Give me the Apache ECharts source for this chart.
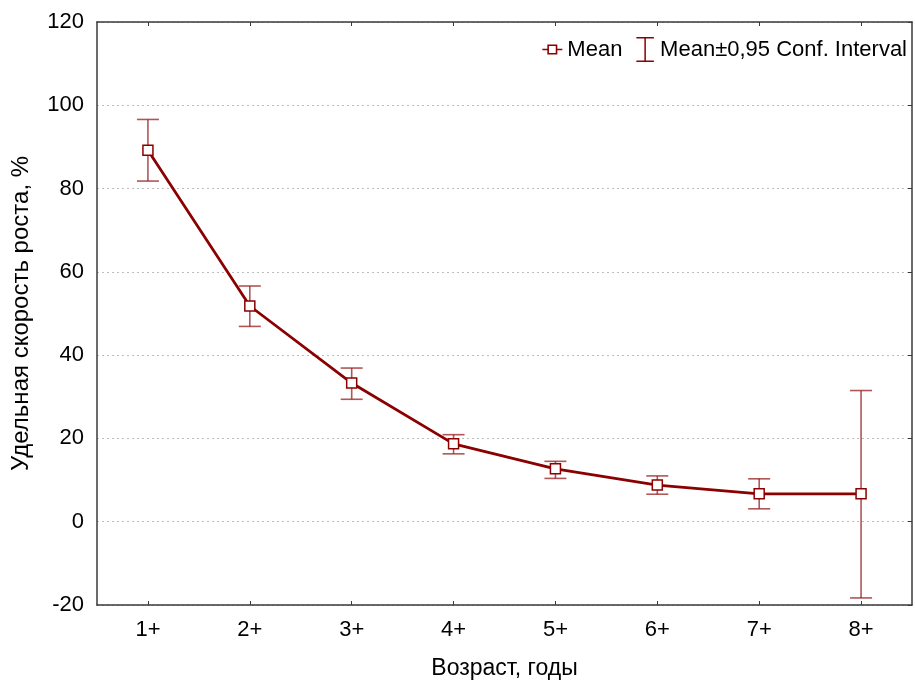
<!DOCTYPE html>
<html>
<head>
<meta charset="utf-8">
<script src="https://cdn.jsdelivr.net/npm/echarts@6/dist/echarts.min.js"></script>
<style>
  html, body { margin: 0; padding: 0; background: #fff; }
  #chart { width: 915px; height: 681px; }
</style>
</head>
<body>
<div id="chart"></div>
<script>
// Age groups and specific growth rate (mean with 95% confidence limits)
const categories = ['1+', '2+', '3+', '4+', '5+', '6+', '7+', '8+'];
const meanValues = [89.2, 51.8, 33.3, 18.7, 12.7, 8.8, 6.7, 6.7];
const lowerValues = [81.8, 46.9, 29.4, 16.3, 10.4, 6.6, 3.1, -18.3];
const upperValues = [96.6, 56.6, 36.9, 20.9, 14.5, 11.0, 10.3, 31.5];
const yTicks = { min: -20, max: 120, step: 20 };

const lineColor = '#8b0000';
const barColor = 'rgba(150, 30, 30, 0.75)';
const axisColor = '#3a3a3a';
const fontFamily = '"Liberation Sans", Arial, sans-serif';

// legend glyphs: line with a hollow square, and an I-beam
const meanIcon = 'path://M0,4.3h5v1.4h-5z M15,4.3h5v1.4h-5z M5,0h10v10h-10z M6.6,1.6v6.8h6.8v-6.8z';
const ciIcon = 'path://M0,0h14v1.2h-6.4v17.6h6.4v1.2h-14v-1.2h6.4v-17.6h-6.4z';

const errorData = categories.map((c, i) => [i, lowerValues[i], upperValues[i]]);

const chart = echarts.init(document.getElementById('chart'));

chart.setOption({
  animation: false,
  textStyle: { fontFamily: fontFamily },
  grid: { left: 97, right: 3, top: 22, bottom: 76, containLabel: false, outerBoundsMode: 'none' },
  legend: {
    right: 3,
    top: 32,
    itemGap: 14,
    itemWidth: 20,
    itemHeight: 25,
    textStyle: { fontSize: 22, color: '#000', fontFamily: fontFamily },
    data: [
      { name: 'Mean', icon: meanIcon, itemStyle: { color: lineColor, borderWidth: 0 } },
      { name: 'Mean±0,95 Conf. Interval', icon: ciIcon, itemStyle: { color: lineColor, borderWidth: 0 } }
    ]
  },
  xAxis: [
    {
      type: 'category',
      data: categories,
      boundaryGap: true,
      axisLine: { show: true, onZero: false, lineStyle: { color: axisColor, width: 1.5 } },
      axisTick: { show: true, inside: true, length: 4, alignWithLabel: true, lineStyle: { color: axisColor } },
      axisLabel: { fontSize: 22, color: '#000', margin: 14 },
      name: 'Возраст, годы',
      nameLocation: 'middle',
      nameGap: 52,
      nameTextStyle: { fontSize: 23, color: '#000' },
      splitLine: { show: false }
    },
    {
      type: 'category',
      data: categories,
      position: 'top',
      boundaryGap: true,
      axisLine: { show: true, onZero: false, lineStyle: { color: axisColor, width: 1.5 } },
      axisTick: { show: true, inside: true, length: 4, alignWithLabel: true, lineStyle: { color: axisColor } },
      axisLabel: { show: false },
      splitLine: { show: false }
    }
  ],
  yAxis: [
    {
      type: 'value',
      min: yTicks.min,
      max: yTicks.max,
      interval: yTicks.step,
      axisLine: { show: true, onZero: false, lineStyle: { color: axisColor, width: 1.5 } },
      axisTick: { show: false },
      axisLabel: { fontSize: 22, color: '#000', margin: 13 },
      splitLine: { show: true, lineStyle: { color: '#bdbdbd', type: [2, 3], width: 1 } },
      name: 'Удельная скорость роста, %',
      nameLocation: 'middle',
      nameRotate: 90,
      nameGap: 64,
      nameTextStyle: { fontSize: 24, color: '#000' }
    },
    {
      type: 'value',
      position: 'right',
      min: yTicks.min,
      max: yTicks.max,
      interval: yTicks.step,
      axisLine: { show: true, onZero: false, lineStyle: { color: axisColor, width: 1.5 } },
      axisTick: { show: true, inside: true, length: 4, lineStyle: { color: axisColor } },
      axisLabel: { show: false },
      splitLine: { show: false }
    }
  ],
  series: [
    {
      name: 'Mean±0,95 Conf. Interval',
      type: 'custom',
      xAxisIndex: 0,
      yAxisIndex: 0,
      z: 2,
      itemStyle: { color: lineColor },
      data: errorData,
      encode: { x: 0, y: [1, 2] },
      renderItem: function (params, api) {
        const x = api.value(0);
        const lo = api.coord([x, api.value(1)]);
        const hi = api.coord([x, api.value(2)]);
        const half = 11;
        const style = { stroke: barColor, lineWidth: 1.6, fill: null };
        return {
          type: 'group',
          children: [
            { type: 'line', shape: { x1: hi[0], y1: hi[1], x2: lo[0], y2: lo[1] }, style: style },
            { type: 'line', shape: { x1: hi[0] - half, y1: hi[1], x2: hi[0] + half, y2: hi[1] }, style: style },
            { type: 'line', shape: { x1: lo[0] - half, y1: lo[1], x2: lo[0] + half, y2: lo[1] }, style: style }
          ]
        };
      }
    },
    {
      name: 'Mean',
      type: 'line',
      xAxisIndex: 0,
      yAxisIndex: 0,
      z: 3,
      data: meanValues,
      symbol: 'rect',
      symbolSize: 10,
      showAllSymbol: true,
      lineStyle: { color: lineColor, width: 2.8 },
      itemStyle: { color: '#fff', borderColor: lineColor, borderWidth: 1.5 }
    }
  ]
});
</script>
</body>
</html>
